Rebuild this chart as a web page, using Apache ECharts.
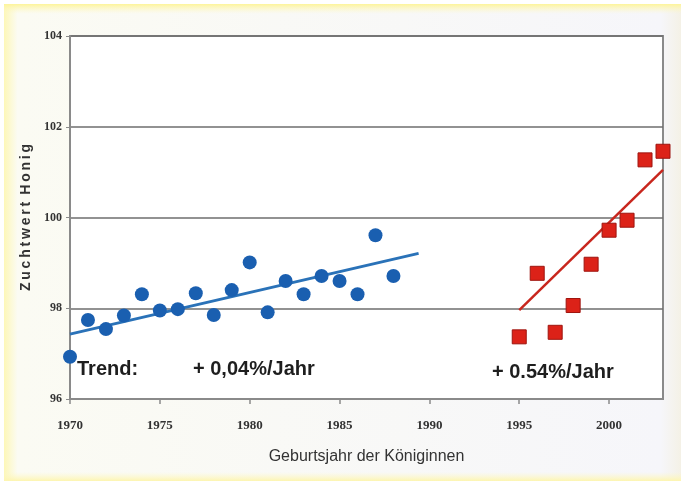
<!DOCTYPE html>
<html>
<head>
<meta charset="utf-8">
<title>Zuchtwert Honig</title>
<script src="https://cdn.jsdelivr.net/npm/echarts@6/dist/echarts.min.js"></script>
<style>
  html, body { margin: 0; padding: 0; background: #ffffff; }
  #main { width: 683px; height: 484px; }
</style>
</head>
<body>
<div id="main"></div>
<script>
// Daten
var yearsOld = [1970, 1971, 1972, 1973, 1974, 1975, 1976, 1977, 1978, 1979,
                1980, 1981, 1982, 1983, 1984, 1985, 1986, 1987, 1988];
var valuesOld = [96.93, 97.74, 97.54, 97.84, 98.31, 97.95, 97.98, 98.33, 97.85, 98.40,
                 99.01, 97.91, 98.60, 98.31, 98.71, 98.60, 98.31, 99.61, 98.71];
var yearsNew = [1995, 1996, 1997, 1998, 1999, 2000, 2001, 2002, 2003];
var valuesNew = [97.37, 98.77, 97.47, 98.06, 98.97, 99.72, 99.94, 101.27, 101.46];
// Trendlinien: Anfangs- und Endpunkt
var trendOld = [[1970, 97.43], [1989.4, 99.21]];
var trendNew = [[1995, 97.96], [2003, 101.05]];

var chart = echarts.init(document.getElementById('main'));

function pairs(xs, ys) {
  return xs.map(function (x, i) { return [x, ys[i]]; });
}

var labelFont = 'bold 20px "Liberation Sans", Arial, sans-serif';

chart.setOption({
  animation: false,
  graphic: [
    // gelblicher Rahmen
    {
      type: 'rect', z: -10, silent: true,
      shape: { x: 4, y: 4, width: 677, height: 477 },
      style: {
        fill: {
          type: 'linear', x: 0, y: 0, x2: 1, y2: 0,
          colorStops: [
            { offset: 0, color: '#fdf7b8' },
            { offset: 0.02, color: '#fbfbf3' },
            { offset: 0.97, color: '#f6f6fa' },
            { offset: 1, color: '#f4f1e6' }
          ]
        }
      }
    },
    {
      type: 'rect', z: -9, silent: true,
      shape: { x: 4, y: 4, width: 677, height: 10 },
      style: {
        fill: {
          type: 'linear', x: 0, y: 0, x2: 0, y2: 1,
          colorStops: [
            { offset: 0, color: '#fdf49a' },
            { offset: 1, color: 'rgba(253,248,200,0)' }
          ]
        }
      }
    },
    {
      type: 'rect', z: -9, silent: true,
      shape: { x: 4, y: 472, width: 677, height: 9 },
      style: {
        fill: {
          type: 'linear', x: 0, y: 0, x2: 0, y2: 1,
          colorStops: [
            { offset: 0, color: 'rgba(253,248,200,0)' },
            { offset: 1, color: '#fdf5b0' }
          ]
        }
      }
    },
    {
      type: 'rect', z: -8, silent: true,
      shape: { x: 70, y: 36, width: 593, height: 363 },
      style: { fill: '#ffffff' }
    },
    {
      type: 'text', left: 77, top: 359,
      style: { text: 'Trend:', font: labelFont, fill: '#1e1e1e' }
    },
    {
      type: 'text', left: 193, top: 359,
      style: { text: '+ 0,04%/Jahr', font: labelFont, fill: '#1e1e1e' }
    },
    {
      type: 'text', left: 492, top: 362,
      style: { text: '+ 0.54%/Jahr', font: labelFont, fill: '#1e1e1e' }
    }
  ],
  grid: { left: 70, right: 20, top: 36, bottom: 85, show: true, borderColor: '#8a8a8a', borderWidth: 2 },
  xAxis: {
    type: 'value',
    min: 1970, max: 2003, interval: 5,
    name: 'Geburtsjahr der Königinnen',
    nameLocation: 'middle', nameGap: 50,
    nameTextStyle: { fontFamily: '"Liberation Sans", Arial, sans-serif', fontSize: 16, color: '#333' },
    axisLine: { lineStyle: { color: '#8a8a8a', width: 2 } },
    axisTick: { length: 5, lineStyle: { color: '#8a8a8a', width: 1.5 } },
    axisLabel: {
      margin: 20, showMaxLabel: false,
      formatter: function (v) { return v % 5 === 0 ? String(v) : ''; },
      fontFamily: '"Liberation Serif", "Times New Roman", serif',
      fontWeight: 'bold', fontSize: 13, color: '#333'
    },
    splitLine: { show: false }
  },
  yAxis: {
    type: 'value',
    min: 96, max: 104, interval: 2,
    name: 'Z\u2009u\u2009c\u2009h\u2009t\u2009w\u2009e\u2009r\u2009t\u2002H\u2009o\u2009n\u2009i\u2009g',
    nameLocation: 'middle', nameGap: 36,
    nameTextStyle: { fontFamily: '"Liberation Sans", Arial, sans-serif', fontSize: 14, fontWeight: 'bold', color: '#333' },
    axisLine: { show: true, lineStyle: { color: '#8a8a8a', width: 2 } },
    axisTick: { show: true, length: 4, lineStyle: { color: '#8a8a8a' } },
    axisLabel: {
      margin: 8,
      fontFamily: '"Liberation Serif", "Times New Roman", serif',
      fontWeight: 'bold', fontSize: 12, color: '#333'
    },
    splitLine: { lineStyle: { color: '#6e6e6e', width: 1.5 } }
  },
  series: [
    {
      type: 'scatter', data: pairs(yearsOld, valuesOld),
      symbol: 'circle', symbolSize: 14,
      itemStyle: { color: '#1a5fb0', opacity: 1 }, z: 3
    },
    {
      type: 'line', data: trendOld, symbol: 'none',
      lineStyle: { color: '#2a72b8', width: 3 }, z: 2
    },
    {
      type: 'scatter', data: pairs(yearsNew, valuesNew),
      symbol: 'rect', symbolSize: 14,
      itemStyle: { color: '#dc2218', borderColor: '#9e140e', borderWidth: 1, opacity: 1 }, z: 3
    },
    {
      type: 'line', data: trendNew, symbol: 'none',
      lineStyle: { color: '#c8261d', width: 2.5 }, z: 2
    }
  ]
});
</script>
</body>
</html>
